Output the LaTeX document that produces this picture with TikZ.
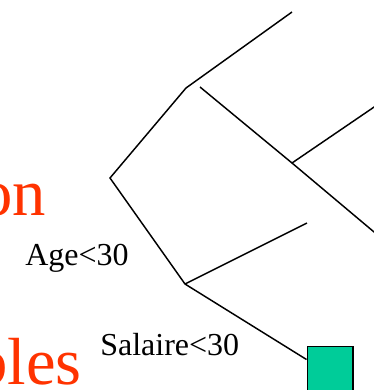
\documentclass[tikz,border=0pt]{standalone}
\usepackage{fontspec}
\setmainfont{Liberation Serif}
\usepackage{xcolor}
\usetikzlibrary{positioning}
\definecolor{TitleRed}{HTML}{FF3300}
\definecolor{LeafGreen}{HTML}{00CC99}
\tikzset{
    branch/.style={
        draw=black,
        line width=1.1pt
    },
    leaf/.style={
        draw=black,
        fill=LeafGreen,
        line width=1.4pt,
        minimum width=34pt,
        minimum height=35pt,
        inner sep=0pt,
        anchor=north west
    },
    cond/.style={
        font=\fontsize{24}{28}\selectfont,
        text=black,
        inner sep=0pt,
        anchor=base west
    },
    bigword/.style={
        font=\fontsize{50}{60}\selectfont,
        text=TitleRed,
        inner sep=0pt,
        anchor=base east
    }
}

\begin{document}
\begin{tikzpicture}[x=0.75pt, y=-0.75pt]
        \useasboundingbox (0,0) rectangle (374,390);
        \clip (0,0) rectangle (374,390);

        % Cut-off title words
        \node[bigword] (wordA) at (46,215) {on};
        \node[bigword] (wordB) at (82,384) {bles};

        % Tree points
        \coordinate (root) at (110,178);
        \coordinate (upper) at (186,88);
        \coordinate (upperEnd) at (292,12);
        \coordinate (midStart) at (200,87);
        \coordinate (midFork) at (292,163);
        \coordinate (midEnd) at (380,237);
        \coordinate (midBranch) at (380,103);
        \coordinate (lower) at (185,284);
        \coordinate (lowerEnd) at (307,223);

        % Leaf
        \node[leaf] (leafA) at (306.5,345.5) {};

        % Branches
        \draw[branch] (upperEnd) -- (upper) -- (root) -- (lower) -- ([yshift=-10.5pt]leafA.north west);
        \draw[branch] (midStart) -- (midFork) -- (midEnd);
        \draw[branch] (midFork) -- (midBranch);
        \draw[branch] (lower) -- (lowerEnd);

        % Conditions
        \node[cond] (ageLbl) at (25,265) {Age<30};
        \node[cond] (salLbl) at (100,355) {Salaire<30};
    \end{tikzpicture}
\end{document}
